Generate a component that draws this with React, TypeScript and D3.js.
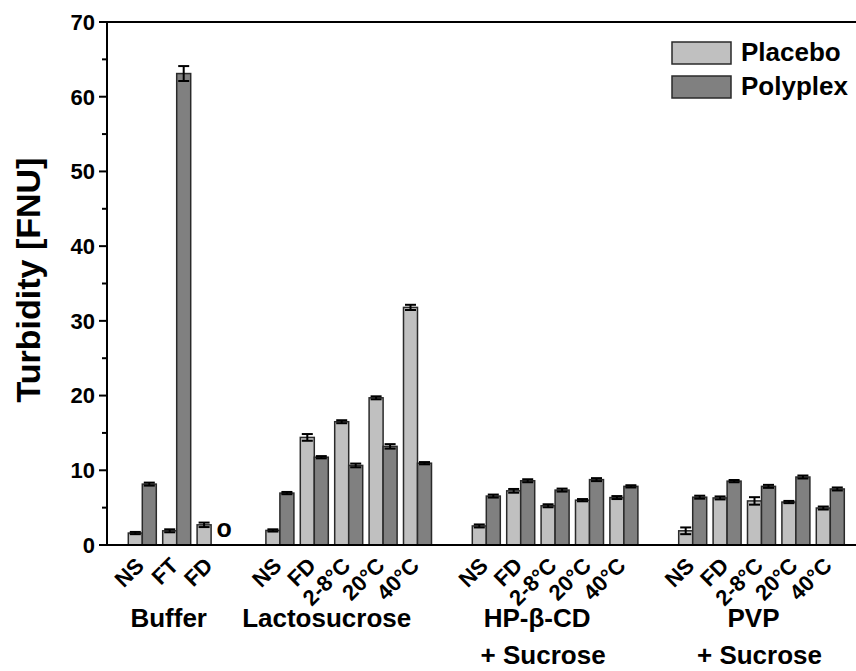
import React from "react";
import * as d3 from "d3";

// Formulation groups and the storage conditions measured in each
const groupNames = ["Buffer", "Lactosucrose", "HP-β-CD", "PVP"];
const groupSubtitles = ["", "", "+ Sucrose", "+ Sucrose"];
const bufferConditions = ["NS", "FT", "FD"];
const storageConditions = ["NS", "FD", "2-8°C", "20°C", "40°C"];

// Turbidity [FNU], mean values per group
const placeboBuffer = [1.6, 1.9, 2.7];
const placeboLacto = [1.95, 14.4, 16.5, 19.7, 31.8];
const placeboHP = [2.55, 7.25, 5.25, 6.0, 6.35];
const placeboPVP = [1.9, 6.3, 5.9, 5.75, 4.95];

const polyplexBuffer = [8.15, 63.1, null];
const polyplexLacto = [6.95, 11.75, 10.65, 13.2, 10.95];
const polyplexHP = [6.55, 8.6, 7.35, 8.75, 7.85];
const polyplexPVP = [6.4, 8.55, 7.85, 9.1, 7.5];

// Standard deviations
const placeboErrBuffer = [0.15, 0.2, 0.3];
const placeboErrLacto = [0.15, 0.45, 0.2, 0.2, 0.35];
const placeboErrHP = [0.2, 0.25, 0.2, 0.15, 0.2];
const placeboErrPVP = [0.45, 0.2, 0.5, 0.15, 0.2];

const polyplexErrBuffer = [0.2, 1.0, null];
const polyplexErrLacto = [0.15, 0.15, 0.25, 0.3, 0.15];
const polyplexErrHP = [0.2, 0.2, 0.2, 0.2, 0.15];
const polyplexErrPVP = [0.2, 0.15, 0.2, 0.2, 0.2];

const yTicks = [0, 10, 20, 30, 40, 50, 60, 70];
const seriesNames = ["Placebo", "Polyplex"];
const colors = ["#c0c0c0", "#808080"];

const W = 856;
const H = 671;
const FONT = "'Liberation Sans', Arial, Helvetica, sans-serif";

// horizontal nudges of the group captions relative to their bar clusters
const groupLabelShift = [-8, -22, -18, -8];

type Row = {
  key: string;
  group: number;
  label: string;
  values: (number | null)[];
  errs: (number | null)[];
};

function buildRows(): { rows: Row[]; slots: string[] } {
  const groups = [
    { labels: bufferConditions, p: placeboBuffer, q: polyplexBuffer, pe: placeboErrBuffer, qe: polyplexErrBuffer },
    { labels: storageConditions, p: placeboLacto, q: polyplexLacto, pe: placeboErrLacto, qe: polyplexErrLacto },
    { labels: storageConditions, p: placeboHP, q: polyplexHP, pe: placeboErrHP, qe: polyplexErrHP },
    { labels: storageConditions, p: placeboPVP, q: polyplexPVP, pe: placeboErrPVP, qe: polyplexErrPVP },
  ];
  const rows: Row[] = [];
  const slots: string[] = [];
  groups.forEach((g, gi) => {
    if (gi > 0) slots.push(`gap-${gi}`);
    g.labels.forEach((lab, i) => {
      const key = `${gi}-${lab}`;
      slots.push(key);
      rows.push({ key, group: gi, label: lab, values: [g.p[i], g.q[i]], errs: [g.pe[i], g.qe[i]] });
    });
  });
  return { rows, slots };
}

export default function App() {
  const { rows, slots } = buildRows();

  const axisLeft = 107;
  const axisTop = 22;
  const axisBottom = 545;

  const x = d3
    .scaleBand<string>()
    .domain(slots)
    .range([125.1, 125.1 + slots.length * 34.4])
    .paddingInner(0.186)
    .paddingOuter(0.093);
  const xs = d3.scaleBand<number>().domain([0, 1]).range([0, x.bandwidth()]);
  const y = d3.scaleLinear().domain([0, 70]).range([axisBottom, axisTop]);

  const minorTicks = d3.range(5, 70, 10);

  const groupCenter = (gi: number) => {
    const r = rows.filter((d) => d.group === gi);
    const a = x(r[0].key)!;
    const b = x(r[r.length - 1].key)! + x.bandwidth();
    return (a + b) / 2 + groupLabelShift[gi];
  };

  const missing = rows.find((d) => d.values[1] === null)!;

  return (
    <svg width={W} height={H} style={{ display: "block", position: "absolute", left: 0, top: 0, background: "#fff" }} fontFamily={FONT}>
      {/* bars */}
      {rows.map((d) =>
        d.values.map((v, si) =>
          v === null ? null : (
            <rect
              key={`${d.key}-${si}`}
              x={x(d.key)! + xs(si)!}
              y={y(v)}
              width={xs.bandwidth()}
              height={y(0) - y(v)}
              fill={colors[si]}
              stroke="#2a2a2a"
              strokeWidth={1.5}
            />
          )
        )
      )}
      {/* error bars */}
      {rows.map((d) =>
        d.values.map((v, si) => {
          const e = d.errs[si];
          if (v === null || e === null) return null;
          const cx = x(d.key)! + xs(si)! + xs.bandwidth() / 2;
          const hw = 5.5;
          return (
            <g key={`e-${d.key}-${si}`} stroke="#000" strokeWidth={2}>
              <line x1={cx} x2={cx} y1={y(v - e)} y2={y(v + e)} />
              <line x1={cx - hw} x2={cx + hw} y1={y(v + e)} y2={y(v + e)} />
              <line x1={cx - hw} x2={cx + hw} y1={y(v - e)} y2={y(v - e)} />
            </g>
          );
        })
      )}
      {/* marker where no polyplex value exists */}
      <text
        x={x(missing.key)! + xs(1)! + xs.bandwidth() / 2 + 6}
        y={y(0) - 8}
        textAnchor="middle"
        fontSize={25}
        fontWeight="bold"
      >
        o
      </text>

      {/* frame and axes */}
      <g stroke="#000" strokeWidth={2} fill="none">
        <line x1={axisLeft} x2={axisLeft} y1={axisTop} y2={axisBottom} />
        <line x1={axisLeft - 1} x2={W} y1={axisBottom} y2={axisBottom} />
        <line x1={axisLeft - 1} x2={W} y1={axisTop} y2={axisTop} />
        {yTicks.map((t) => (
          <line key={`M${t}`} x1={axisLeft - 8} x2={axisLeft} y1={y(t)} y2={y(t)} />
        ))}
        {minorTicks.map((t) => (
          <line key={`m${t}`} x1={axisLeft - 5} x2={axisLeft} y1={y(t)} y2={y(t)} />
        ))}
      </g>
      {yTicks.map((t) => (
        <text
          key={`l${t}`}
          x={axisLeft - 12}
          y={y(t)}
          dy="0.36em"
          textAnchor="end"
          fontSize={22}
          fontWeight="bold"
        >
          {t}
        </text>
      ))}
      <text
        transform={`translate(40, 280) rotate(-90)`}
        textAnchor="middle"
        fontSize={34}
        fontWeight="bold"
      >
        Turbidity [FNU]
      </text>

      {/* condition labels */}
      {rows.map((d) => {
        const cx = x(d.key)! + x.bandwidth() / 2;
        return (
          <text
            key={`t-${d.key}`}
            transform={`translate(${cx + 3}, 567) rotate(-45)`}
            textAnchor="end"
            fontSize={22}
            fontWeight="bold"
          >
            {d.label}
          </text>
        );
      })}

      {/* group labels */}
      {groupNames.map((g, gi) => (
        <g key={g}>
          <text x={groupCenter(gi)} y={627} textAnchor="middle" fontSize={26} fontWeight="bold">
            {g}
          </text>
          {groupSubtitles[gi] && (
            <text x={groupCenter(gi) + 6} y={664} textAnchor="middle" fontSize={26} fontWeight="bold">
              {groupSubtitles[gi]}
            </text>
          )}
        </g>
      ))}

      {/* legend */}
      {seriesNames.map((s, i) => (
        <g key={s} transform={`translate(672, ${42 + i * 34})`}>
          <rect width={59} height={22} fill={colors[i]} stroke="#2a2a2a" strokeWidth={1.5} />
          <text x={69} y={19} fontSize={26} fontWeight="bold">
            {s}
          </text>
        </g>
      ))}
    </svg>
  );
}
